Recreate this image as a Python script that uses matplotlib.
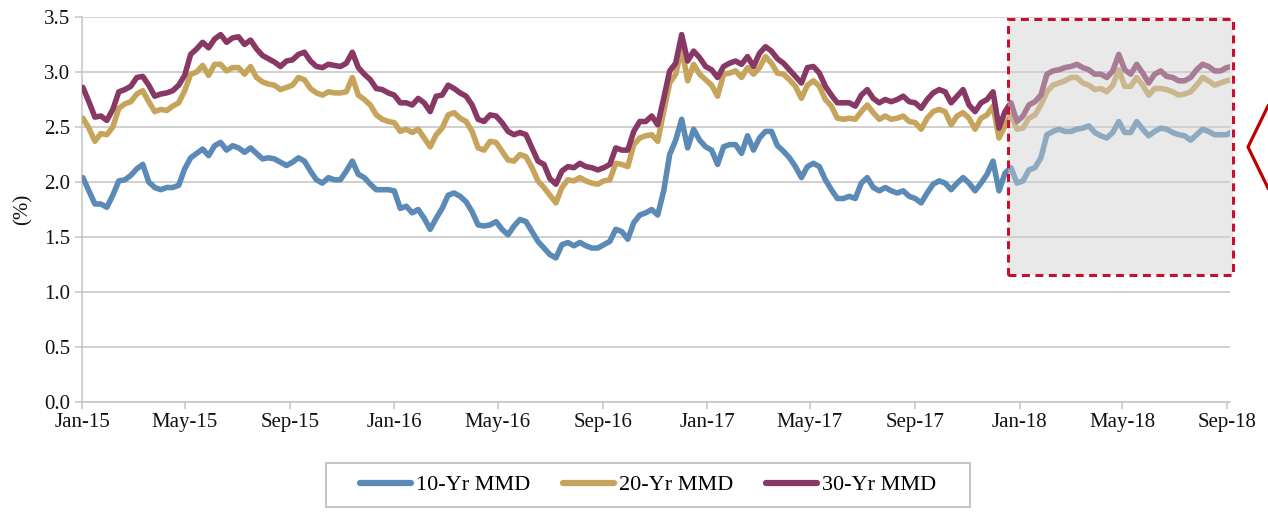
import pandas as pd
import matplotlib
matplotlib.use("Agg")
import matplotlib.pyplot as plt
import matplotlib.dates as mdates
from matplotlib.patches import Rectangle
from matplotlib.lines import Line2D

# === Data (weekly readings, %) ===
start_date = "2015-01-02"

mmd_30 = [
    2.86, 2.73, 2.59, 2.60, 2.56, 2.66, 2.82, 2.84, 2.87, 2.95,
    2.96, 2.88, 2.78, 2.80, 2.81, 2.83, 2.88, 2.97, 3.16, 3.21,
    3.27, 3.22, 3.30, 3.34, 3.27, 3.31, 3.32, 3.25, 3.29, 3.21,
    3.15, 3.12, 3.09, 3.05, 3.10, 3.11, 3.16, 3.18, 3.10, 3.05,
    3.04, 3.07, 3.06, 3.05, 3.08, 3.18, 3.04, 2.98, 2.93, 2.85,
    2.84, 2.81, 2.79, 2.72, 2.72, 2.70, 2.76, 2.72, 2.64, 2.78,
    2.79, 2.88, 2.85, 2.81, 2.78, 2.70, 2.57, 2.55, 2.61, 2.60,
    2.54, 2.46, 2.43, 2.45, 2.43, 2.31, 2.19, 2.16, 2.03,
    1.98, 2.10, 2.14, 2.13, 2.17, 2.14, 2.13, 2.11, 2.13, 2.16,
    2.31, 2.29, 2.29, 2.46, 2.55, 2.55, 2.60, 2.52, 2.76, 3.01,
    3.08, 3.34, 3.10, 3.19, 3.13, 3.05, 3.02, 2.95, 3.05, 3.08,
    3.10, 3.07, 3.14, 3.05, 3.17, 3.23, 3.19, 3.12,
    3.08, 3.02, 2.96, 2.90, 3.04, 3.05, 2.99, 2.87, 2.79, 2.72,
    2.72, 2.72, 2.69, 2.79, 2.84, 2.76, 2.72, 2.75, 2.73, 2.75,
    2.78, 2.73, 2.72, 2.67, 2.75, 2.81, 2.84, 2.82, 2.72, 2.78,
    2.84, 2.70, 2.64, 2.72, 2.75, 2.82, 2.49, 2.64,
    2.72, 2.55, 2.60, 2.70, 2.73, 2.79, 2.98, 3.01, 3.02, 3.04,
    3.05, 3.07, 3.04, 3.02, 2.98, 2.98, 2.95, 3.01, 3.16, 3.02,
    2.98, 3.07, 2.99, 2.90, 2.98, 3.01, 2.96, 2.95, 2.92, 2.92,
    2.95, 3.02, 3.07, 3.05, 3.01, 3.01, 3.04, 3.05,
]

mmd_20 = [
    2.58, 2.49, 2.37, 2.44, 2.43, 2.50, 2.67, 2.71, 2.73, 2.80,
    2.83, 2.73, 2.64, 2.66, 2.65, 2.69, 2.72, 2.83, 2.98, 3.00,
    3.06, 2.97, 3.07, 3.07, 3.01, 3.04, 3.04, 2.98, 3.05, 2.95,
    2.91, 2.89, 2.88, 2.84, 2.86, 2.88, 2.95, 2.93, 2.85, 2.81,
    2.79, 2.82, 2.81, 2.81, 2.82, 2.95, 2.79, 2.75, 2.70, 2.61,
    2.57, 2.55, 2.54, 2.46, 2.48, 2.45, 2.48, 2.40, 2.32, 2.43,
    2.49, 2.61, 2.63, 2.58, 2.55, 2.46, 2.31, 2.29, 2.37, 2.36,
    2.28, 2.20, 2.19, 2.25, 2.23, 2.13, 2.01, 1.95, 1.88,
    1.81, 1.95, 2.02, 2.01, 2.04, 2.01, 1.99, 1.98, 2.01, 2.02,
    2.17, 2.16, 2.14, 2.34, 2.40, 2.42, 2.43, 2.37, 2.64, 2.90,
    2.98, 3.22, 2.92, 3.07, 2.98, 2.93, 2.88, 2.78, 2.98, 2.99,
    3.01, 2.95, 3.04, 2.98, 3.04, 3.14, 3.08, 2.99,
    2.98, 2.93, 2.87, 2.76, 2.88, 2.92, 2.87, 2.75, 2.69, 2.58,
    2.57, 2.58, 2.57, 2.64, 2.70, 2.63, 2.57, 2.60, 2.57, 2.58,
    2.60, 2.55, 2.54, 2.48, 2.58, 2.64, 2.66, 2.64, 2.52, 2.60,
    2.63, 2.58, 2.48, 2.58, 2.61, 2.69, 2.40, 2.51,
    2.61, 2.48, 2.49, 2.58, 2.61, 2.70, 2.82, 2.88, 2.90, 2.92,
    2.95, 2.95, 2.90, 2.88, 2.84, 2.85, 2.82, 2.88, 3.02, 2.87,
    2.87, 2.95, 2.88, 2.79, 2.85, 2.85, 2.84, 2.82, 2.79, 2.80,
    2.82, 2.88, 2.95, 2.92, 2.88, 2.90, 2.92, 2.93,
]

mmd_10 = [
    2.04, 1.92, 1.80, 1.80, 1.77, 1.88, 2.01, 2.02, 2.06, 2.12,
    2.16, 2.00, 1.95, 1.93, 1.95, 1.95, 1.97, 2.12, 2.22, 2.26,
    2.30, 2.24, 2.33, 2.36, 2.29, 2.33, 2.31, 2.27, 2.31, 2.26,
    2.21, 2.22, 2.21, 2.18, 2.15, 2.18, 2.22, 2.19, 2.10, 2.02,
    1.99, 2.04, 2.02, 2.02, 2.10, 2.19, 2.07, 2.04, 1.98, 1.93,
    1.93, 1.93, 1.92, 1.76, 1.78, 1.72, 1.75, 1.67, 1.57, 1.67,
    1.76, 1.88, 1.90, 1.87, 1.82, 1.73, 1.61, 1.60, 1.61, 1.64,
    1.57, 1.52, 1.60, 1.66, 1.64, 1.55, 1.46, 1.40, 1.34,
    1.31, 1.43, 1.45, 1.42, 1.45, 1.42, 1.40, 1.40, 1.43, 1.46,
    1.57, 1.55, 1.48, 1.63, 1.70, 1.72, 1.75, 1.70, 1.92, 2.25,
    2.38, 2.57, 2.31, 2.48, 2.38, 2.32, 2.29, 2.16, 2.32, 2.34,
    2.34, 2.26, 2.42, 2.29, 2.40, 2.46, 2.46, 2.33,
    2.28, 2.22, 2.14, 2.04, 2.14, 2.17, 2.14, 2.02, 1.93, 1.85,
    1.85, 1.87, 1.85, 1.99, 2.04, 1.95, 1.92, 1.95, 1.92, 1.90,
    1.92, 1.87, 1.85, 1.81, 1.90, 1.98, 2.01, 1.99, 1.93, 1.99,
    2.04, 1.99, 1.92, 1.99, 2.07, 2.19, 1.92, 2.08,
    2.13, 1.99, 2.01, 2.11, 2.13, 2.22, 2.43, 2.46, 2.48, 2.46,
    2.46, 2.48, 2.49, 2.51, 2.45, 2.42, 2.40, 2.45, 2.55, 2.45,
    2.45, 2.55, 2.48, 2.42, 2.46, 2.49, 2.48, 2.45, 2.43, 2.42,
    2.38, 2.43, 2.48, 2.46, 2.43, 2.43, 2.43, 2.46,
]

dates = pd.date_range(start_date, periods=len(mmd_10), freq="7D")

series_labels = ["10-Yr MMD", "20-Yr MMD", "30-Yr MMD"]
series_colors = ["#5b8ab6", "#c6a45c", "#883864"]

# highlighted window
hl_start, hl_end = pd.Timestamp("2017-12-19"), pd.Timestamp("2018-09-07")
hl_low, hl_high = 1.155, 3.48

# === Figure ===
plt.rcParams["font.family"] = ["Liberation Serif", "DejaVu Serif"]
fig = plt.figure(figsize=(12.68, 5.12), dpi=100)
ax = fig.add_axes([0.0647, 0.2148, 0.9053, 0.752])

grid_c = "#c4c4c4"
for vals, lab, col in zip([mmd_10, mmd_20, mmd_30], series_labels, series_colors):
    ax.plot(dates, vals, color=col, lw=4.0, label=lab, solid_joinstyle="round",
            solid_capstyle="round", zorder=3)

ax.set_ylim(0, 3.5)
ax.set_yticks([i * 0.5 for i in range(8)])
ax.yaxis.set_major_formatter(plt.FormatStrFormatter("%.1f"))
ax.set_xlim(pd.Timestamp("2015-01-01"), pd.Timestamp("2018-09-04"))
ax.xaxis.set_major_locator(mdates.MonthLocator(bymonth=[1, 5, 9]))
ax.xaxis.set_major_formatter(mdates.DateFormatter("%b-%y"))

ax.grid(axis="y", color=grid_c, lw=1.1, zorder=0)
ax.set_axisbelow(True)
for s in ["top", "right"]:
    ax.spines[s].set_visible(False)
for s in ["left", "bottom"]:
    ax.spines[s].set_color(grid_c)
    ax.spines[s].set_linewidth(1.1)
ax.tick_params(axis="both", colors=grid_c, length=5, width=1.1, labelsize=15,
               labelcolor="#111111")
ax.tick_params(axis="x", pad=3)
ax.set_ylabel("(%)", fontsize=15, color="#111111", labelpad=8)

# shaded highlight box (translucent over lines) + dashed red edge
w = mdates.date2num(hl_end) - mdates.date2num(hl_start)
ax.add_patch(Rectangle((mdates.date2num(hl_start), hl_low), w, hl_high - hl_low,
                       facecolor="#d0d0d0", alpha=0.45, edgecolor="none",
                       zorder=4, clip_on=False))
ax.add_patch(Rectangle((mdates.date2num(hl_start), hl_low), w, hl_high - hl_low,
                       facecolor="none", edgecolor="#c8102e", lw=2.2,
                       linestyle=(0, (2.6, 1.8)), zorder=5, clip_on=False))

# red chevron at right edge
fig.add_artist(Line2D([1.0, 1248 / 1268, 1.0], [1 - 106 / 512, 1 - 147 / 512, 1 - 188 / 512],
                      transform=fig.transFigure, color="#c00000", lw=2.3))

# legend with boxed frame
leg = fig.legend(loc="center", bbox_to_anchor=(648 / 1268, 1 - 485 / 512), ncol=3,
                 frameon=False, fontsize=16, handlelength=2.3, handletextpad=0.2,
                 columnspacing=1.5)
for h in leg.legend_handles:
    h.set_linewidth(4.5)
fig.add_artist(Rectangle((326 / 1268, 1 - 507 / 512), 644 / 1268, 44 / 512,
                         transform=fig.transFigure, facecolor="none",
                         edgecolor="#bfbfbf", lw=1.3))

fig.savefig("out.png", dpi=100)
